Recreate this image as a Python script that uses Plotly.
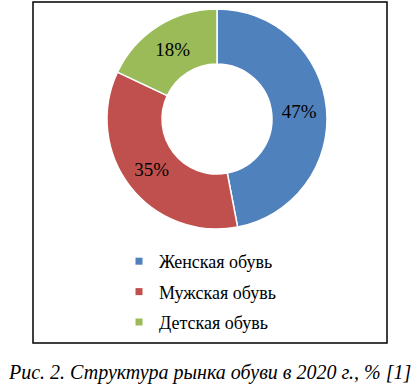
import plotly.graph_objects as go

categories = ["Женская обувь", "Мужская обувь", "Детская обувь"]
values = [47, 35, 18]
colors = ["#4F81BD", "#C0504D", "#9BBB59"]
caption = "Рис. 2. Структура рынка обуви в 2020 г., % [1]"

W, H = 419, 387
SERIF = "Liberation Serif"

fig = go.Figure()
fig.add_trace(go.Pie(
    labels=categories, values=values, sort=False, direction="clockwise", rotation=0,
    hole=0.5, marker=dict(colors=colors, line=dict(color="white", width=1.5)),
    textinfo="percent", textposition="inside", insidetextorientation="horizontal",
    textfont=dict(family=SERIF, size=19, color="black"),
    domain=dict(x=[107 / W, 327 / W], y=[1 - 229 / H, 1 - 9 / H]),
    showlegend=False, hoverinfo="label+percent",
))
for i, (cat, col) in enumerate(zip(categories, colors)):
    fig.add_trace(go.Scatter(
        x=[None], y=[None], mode="markers", name=cat, legendgroup=f"g{i}",
        marker=dict(symbol="square", size=7, color=col),
    ))

fig.add_shape(type="rect", xref="paper", yref="paper",
              x0=33 / W, x1=387 / W, y0=1 - 343 / H, y1=1 - 2 / H,
              line=dict(color="black", width=1.5))
fig.add_annotation(text="<i>" + caption + "</i>", xref="paper", yref="paper",
                   x=0.5, y=1 - 372 / H,
                   showarrow=False, xanchor="center", yanchor="middle",
                   font=dict(family=SERIF, size=20, color="black"))

fig.update_layout(
    width=W, height=H, margin=dict(l=0, r=0, t=0, b=0),
    paper_bgcolor="white", plot_bgcolor="white",
    font=dict(family=SERIF),
    xaxis=dict(visible=False), yaxis=dict(visible=False),
    legend=dict(x=119 / W, y=1 - 243 / H, xanchor="left", yanchor="top",
                font=dict(family=SERIF, size=18, color="black"),
                tracegroupgap=4, bgcolor="rgba(0,0,0,0)"),
)
fig.write_html("out.html", config={"displayModeBar": False},
               post_script="document.body.style.margin='0';")
